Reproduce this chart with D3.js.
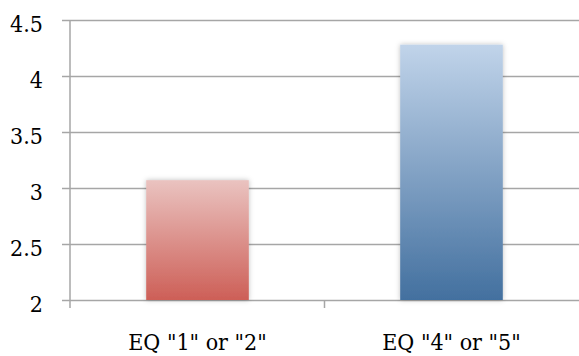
<!DOCTYPE html>
<html>
<head>
<meta charset="utf-8">
<script src="https://cdn.jsdelivr.net/npm/d3@7"></script>
<style>
  body { margin: 0; background: #fff; }
</style>
</head>
<body>
<svg id="chart" width="579" height="356"></svg>
<script>
var categories = ['EQ "1" or "2"', 'EQ "4" or "5"'];
var values = [3.07, 4.28];
var yTicks = [2, 2.5, 3, 3.5, 4, 4.5];
var barColors = [["#eac3c0", "#cd5f57"], ["#c1d4ea", "#43709f"]];
var serif = "'DejaVu Serif Condensed', 'DejaVu Serif', serif";

var svg = d3.select("#chart");
var margin = { top: 20, right: 0, bottom: 57, left: 70 },
  width = 579 - margin.left - margin.right,
  height = 356 - margin.top - margin.bottom;

var x = d3.scaleBand().domain(categories).range([0, width]).paddingInner(0.596).paddingOuter(0.3);
var y = d3.scaleLinear().domain([2, 4.5]).range([height + 1, 0]);

var defs = svg.append("defs");
barColors.forEach(function(c, i) {
  var g = defs.append("linearGradient").attr("id", "grad" + i)
    .attr("x1", 0).attr("y1", 0).attr("x2", 0).attr("y2", 1);
  g.append("stop").attr("offset", "0%").attr("stop-color", c[0]);
  g.append("stop").attr("offset", "100%").attr("stop-color", c[1]);
});
var f = defs.append("filter").attr("id", "shadow")
  .attr("x", "-20%").attr("y", "-20%").attr("width", "140%").attr("height", "140%");
f.append("feDropShadow").attr("dx", 0).attr("dy", 0).attr("stdDeviation", 2.5)
  .attr("flood-color", "#000").attr("flood-opacity", 0.25);

var g = svg.append("g").attr("transform", "translate(" + margin.left + "," + margin.top + ")");

// gridlines + y labels
var yAxis = g.append("g")
  .call(d3.axisLeft(y).tickValues(yTicks).tickSize(-width).tickPadding(27).tickFormat(d3.format("")));
yAxis.select(".domain").remove();
yAxis.selectAll(".tick line").attr("x1", -8).attr("stroke", "#a6a6a6").attr("stroke-width", 1.5);
yAxis.selectAll(".tick text")
  .attr("dy", "11.5px")
  .style("font-family", serif)
  .style("font-size", "23px")
  .style("fill", "#000");

// vertical axis line
g.append("line").attr("x1", 0).attr("x2", 0).attr("y1", y(4.5)).attr("y2", y(2) + 8)
  .attr("stroke", "#a6a6a6").attr("stroke-width", 1.5);

// category separator tick
var midX = (x(categories[0]) + x(categories[1]) + x.bandwidth()) / 2;
g.append("line").attr("x1", midX).attr("x2", midX).attr("y1", y(2)).attr("y2", y(2) + 8)
  .attr("stroke", "#a6a6a6").attr("stroke-width", 1.5);

// bars
g.selectAll(".bar").data(values).enter().append("rect")
  .attr("class", "bar")
  .attr("x", function(d, i) { return x(categories[i]); })
  .attr("y", function(d) { return y(d); })
  .attr("width", x.bandwidth())
  .attr("height", function(d) { return y(2) - y(d); })
  .attr("fill", function(d, i) { return "url(#grad" + i + ")"; })
  .attr("filter", "url(#shadow)");

// x labels
g.selectAll(".xlabel").data(categories).enter().append("text")
  .attr("class", "xlabel")
  .attr("x", function(d) { return x(d) + x.bandwidth() / 2; })
  .attr("y", y(2) + 50)
  .attr("text-anchor", "middle")
  .style("font-family", serif)
  .style("font-size", "23px")
  .style("fill", "#000")
  .text(function(d) { return d; });
</script>
</body>
</html>
